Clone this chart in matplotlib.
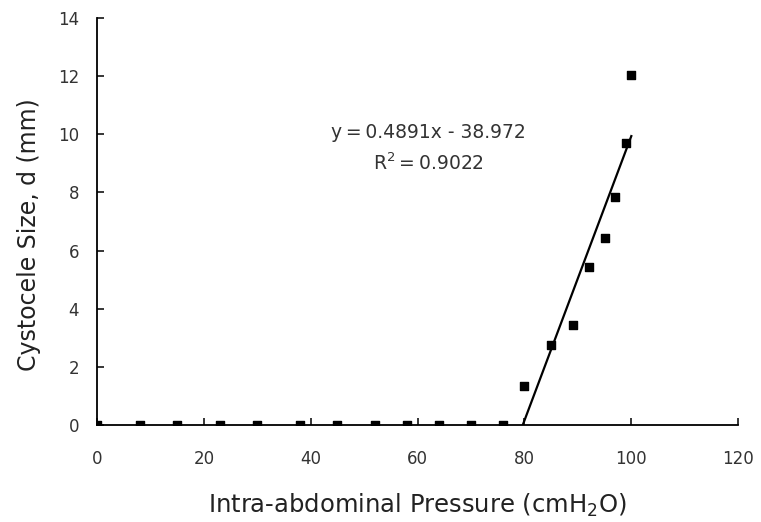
import matplotlib
matplotlib.use("Agg")
import matplotlib.pyplot as plt

# pressure (cmH2O) and cystocele size (mm)
pressure = [0, 8, 15, 23, 30, 38, 45, 52, 58, 64, 70, 76,
            80, 85, 89, 92, 95, 97, 99, 100]
size = [0, 0, 0, 0, 0, 0, 0, 0, 0, 0, 0, 0,
        1.34, 2.75, 3.44, 5.43, 6.43, 7.84, 9.7, 12.04]

slope = 0.4891
intercept = -38.972
r2 = 0.9022
fit_x = [-intercept / slope, 100]

fig = plt.figure(figsize=(7.61, 5.22), dpi=100)
ax = fig.add_axes([0.1275, 0.1858, 0.8425, 0.7797])

ax.scatter(pressure, size, marker="s", s=28, color="black", zorder=3)
ax.plot(fit_x, [slope * x + intercept for x in fit_x], color="black", lw=1.6)

ax.text(62, 10.05, "y\u2009=\u2009%.4fx - %.3f" % (slope, -intercept), ha="center", va="center",
        fontsize=13.5, color="#333333")
ax.text(62, 9.0, "R$^2$\u2009=\u2009%.4f" % r2, ha="center", va="center",
        fontsize=13.5, color="#333333")

ax.set_xlim(0, 120)
ax.set_ylim(0, 14)
ax.set_xticks(range(0, 121, 20))
ax.set_yticks(range(0, 15, 2))
ax.spines["top"].set_visible(False)
ax.spines["right"].set_visible(False)
for s in ("left", "bottom"):
    ax.spines[s].set_linewidth(1.3)
ax.tick_params(direction="in", length=5, width=1.1, labelsize=12,
               labelcolor="#333333")
ax.tick_params(axis="x", pad=18)
ax.tick_params(axis="y", pad=13)
ax.set_xlabel("Intra-abdominal Pressure (cmH$_2$O)", fontsize=17.5, color="#222222", labelpad=17)
ax.set_ylabel("Cystocele Size, d (mm)", fontsize=17, color="#222222")
ax.yaxis.set_label_coords(-0.088, 0.467)

fig.savefig("out.png", dpi=100)
